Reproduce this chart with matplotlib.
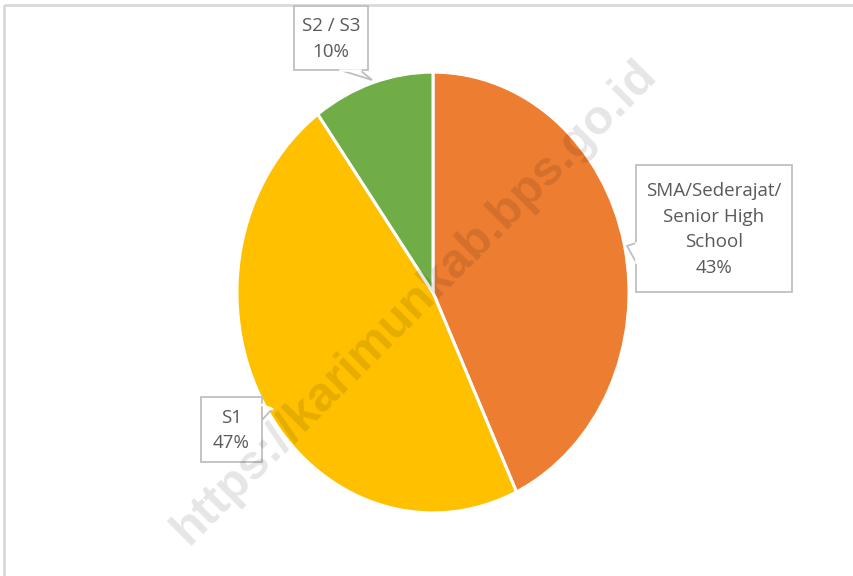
import matplotlib.pyplot as plt
from matplotlib.patches import Rectangle, Polygon

categories = ['SMA/Sederajat/\nSenior High\nSchool', 'S1', 'S2 / S3']
shares = [43, 47, 10]
colors = ['#ED7D31', '#FFC000', '#70AD47']

W, H = 854, 576
fig = plt.figure(figsize=(W / 100, H / 100), dpi=100)

# pie axes (slightly stretched vertically, like the original)
px0, py0, px1, py1 = 236, 71, 630, 514
ax = fig.add_axes([px0 / W, 1 - py1 / H, (px1 - px0) / W, (py1 - py0) / H])
ax.pie(shares, colors=colors, startangle=90, counterclock=False,
       wedgeprops=dict(edgecolor='white', linewidth=2.2))
ax.set_aspect('auto')
ax.set_xlim(-1.005, 1.005)
ax.set_ylim(-1.005, 1.005)
ax.axis('off')

# overlay in pixel coordinates
ov = fig.add_axes([0, 0, 1, 1], zorder=5)
ov.set_xlim(0, W)
ov.set_ylim(H, 0)
ov.axis('off')
ov.patch.set_alpha(0)

# outer frame
ov.add_patch(Rectangle((4, 5), W + 10, H + 10, fill=False, edgecolor='#D9D9D9', lw=2))

# callout boxes: (box x0, y0, x1, y1), pointer polygon
boxes = [
    ((636, 165, 792, 292), [(636, 243), (627, 246), (636, 262)]),
    ((201, 397, 262, 462), [(262, 405), (262, 420), (272, 409)]),
    ((294, 6, 368, 70), [(340, 70), (372, 80), (360, 70)]),
]
for (name, val), ((x0, y0, x1, y1), ptr) in zip(zip(categories, shares), boxes):
    ov.add_patch(Polygon([(x0, y0), (x1, y0), (x1, y1), (x0, y1)], closed=True,
                         facecolor='white', edgecolor='#BFBFBF', lw=1.3, zorder=6))
    ov.add_patch(Polygon(ptr, closed=False, facecolor='white', edgecolor='#BFBFBF',
                         lw=1.3, zorder=7))
    ov.plot([ptr[0][0], ptr[-1][0]], [ptr[0][1], ptr[-1][1]], color='white', lw=1.8, zorder=7.5)
    ov.text((x0 + x1) / 2, (y0 + y1) / 2 + 1, f'{name}\n{val}%', ha='center', va='center',
            fontsize=13.5, color='#595959', family='Open Sans', linespacing=1.55, zorder=8)

# watermark
ov.text(415, 302, 'https://karimunkab.bps.go.id', rotation=45, ha='center', va='center',
        fontsize=35, fontweight='bold', color='black', alpha=0.1, family='Liberation Sans',
        zorder=9)

fig.savefig('out.png', dpi=100, facecolor='white')
